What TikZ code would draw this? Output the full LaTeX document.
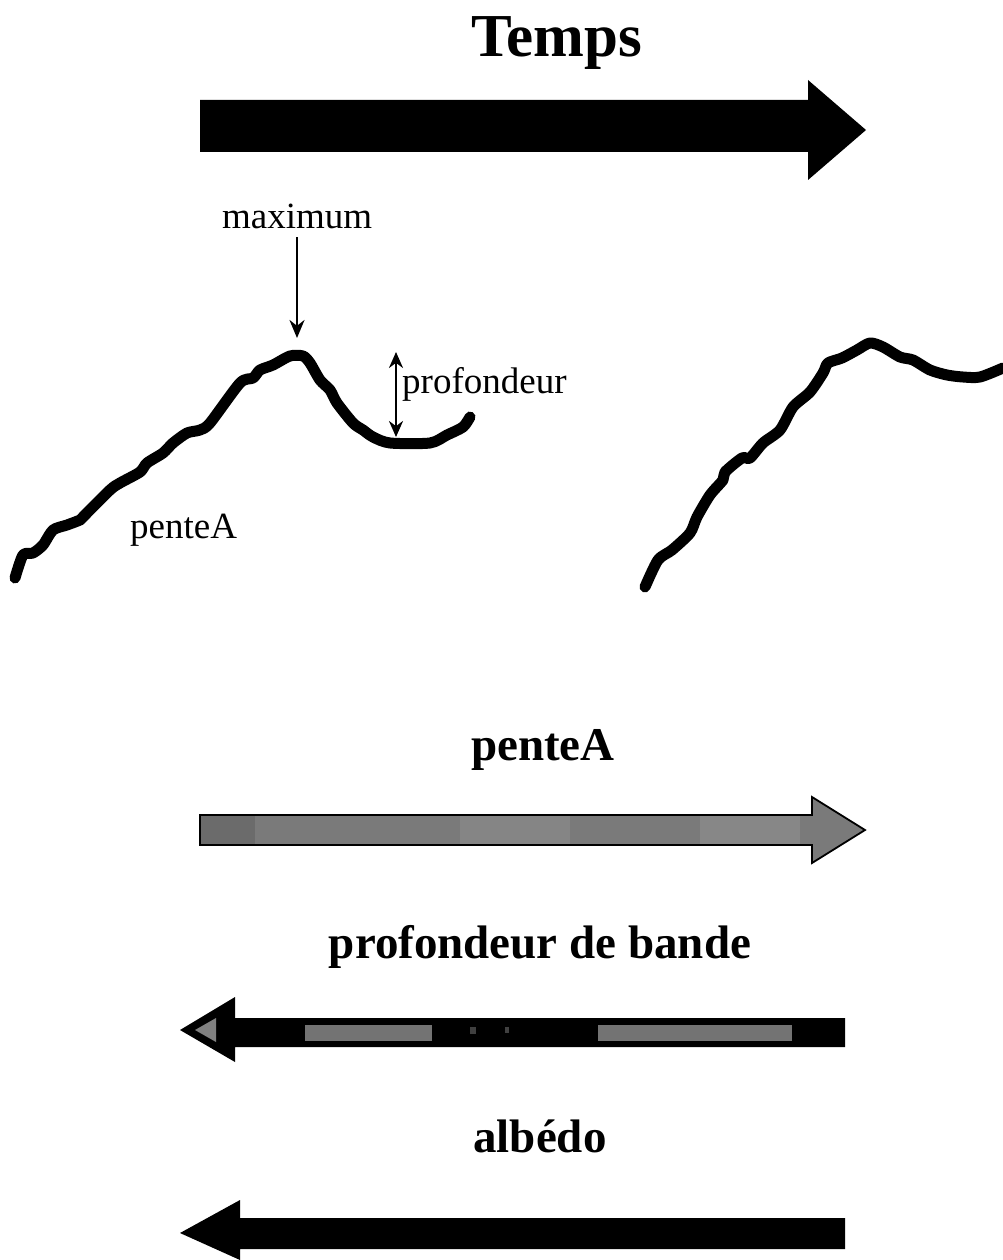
\documentclass[tikz,border=0pt]{standalone}
\usepackage{fontspec}
\setmainfont{Liberation Serif}
\usetikzlibrary{arrows.meta}
\begin{document}
\begin{tikzpicture}[x=1pt,y=-1pt,
  title/.style={font=\bfseries\fontsize{47}{50}\selectfont, anchor=base, inner sep=0},
  lbl/.style={font=\fontsize{37}{40}\selectfont, anchor=base west, inner sep=0},
  curve/.style={line width=11pt, line cap=round, line join=round},
  thin/.style={line width=2.5pt, -{Stealth[length=18pt,width=15pt]}}]
\useasboundingbox (0,0) rectangle (1003,1260);
% Temps
\node[title, font=\bfseries\fontsize{61}{64}\selectfont] (temps) at (557,57) {Temps};
\fill[black] (200,100) -- (808,100) -- (808,80) -- (866,130) -- (808,180) -- (808,152) -- (200,152) -- cycle;
% labels
\node[lbl] (maxi) at (222,228) {maximum};
\coordinate (maxtop) at (297,237);
\coordinate (maxtip) at (297,338);
\draw[thin] (maxtop) -- (maxtip);
\node[lbl] (prof) at (402,393) {profondeur};
\coordinate (ptop) at (396,352);
\coordinate (pbot) at (396,437);
\draw[line width=2.5pt, {Stealth[length=16pt,width=14pt]}-{Stealth[length=16pt,width=14pt]}] (ptop) -- (pbot);
\node[lbl] (pa) at (130,538) {penteA};
% curve 1
\draw[curve] plot[smooth, tension=0.45] coordinates {(15,578) (23,555) (33,553) (43,545) (53,530) (67,525) (80,520) (83,517) (110,490) (120,483) (140,472) (147,463) (163,453) (173,443) (187,433) (200,430) (210,423) (240,383) (253,378) (260,370) (273,365) (290,356) (303,356) (310,363) (320,380) (330,390) (337,403) (353,423) (363,430) (373,437) (390,443) (430,443) (447,435) (463,427) (470,417)};
% curve 2
\draw[curve] plot[smooth, tension=0.45] coordinates {(645,587) (658,560) (672,550) (690,533) (697,517) (710,495) (723,480) (725,472) (742,458) (750,458) (763,443) (780,430) (793,407) (810,392) (823,373) (828,363) (842,358) (857,350) (870,343) (883,347) (900,357) (913,360) (930,370) (947,375) (963,377) (980,377) (1003,368)};
% penteA
\node[title] (t1) at (543,760) {penteA};
\fill[black!52] (200,815) -- (812,815) -- (812,797) -- (865,830) -- (812,863) -- (812,845) -- (200,845) -- cycle;
\fill[black!58] (200,815) rectangle (255,845);
\fill[black!48] (460,815) rectangle (570,845);
\fill[black!47] (700,815) rectangle (800,845);
\draw[line width=1.8pt] (200,815) -- (812,815) -- (812,797) -- (865,830) -- (812,863) -- (812,845) -- (200,845) -- cycle;
% profondeur de bande
\node[title] (t2) at (540,958) {profondeur de bande};
\fill[black] (845,1018) -- (235,1018) -- (235,997) -- (180,1030) -- (235,1062) -- (235,1047) -- (845,1047) -- cycle;
\fill[black!50] (195,1030) -- (216,1018) -- (216,1042) -- cycle;
\fill[black!55] (305,1025) rectangle (432,1041);
\fill[black!55] (598,1025) rectangle (792,1041);
\fill[black!75] (470,1027) rectangle (476,1034);
\fill[black!75] (505,1027) rectangle (509,1033);
% albedo
\node[title] (t3) at (540,1152) {albédo};
\fill[black] (845,1218) -- (240,1218) -- (240,1200) -- (180,1233) -- (240,1260) -- (240,1249) -- (845,1249) -- cycle;
\end{tikzpicture}
\end{document}
